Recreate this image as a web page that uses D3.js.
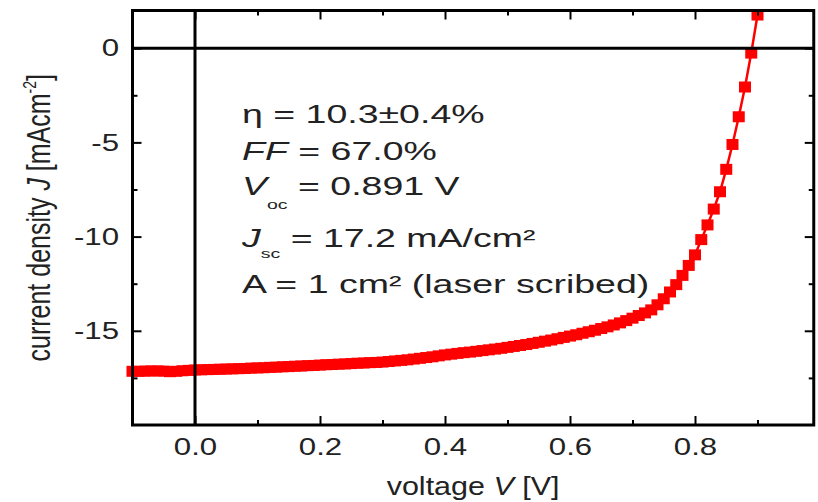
<!DOCTYPE html>
<html>
<head>
<meta charset="utf-8">
<script src="https://cdn.jsdelivr.net/npm/d3@7"></script>
<style>
    body { margin: 0; background: #fff; }
    text { font-family: "Liberation Sans", Arial, sans-serif; fill: #222; }
</style>
</head>
<body>
<div id="chart"></div>
<script>
// --------- DATA ---------

// J-V curve (voltage in V, current density in mA/cm2)
const voltage = [
    -0.10, -0.09, -0.08, -0.07, -0.06, -0.05, -0.04, -0.03, -0.02, -0.01,
    0.00, 0.01, 0.02, 0.03, 0.04, 0.05, 0.06, 0.07, 0.08, 0.09,
    0.10, 0.11, 0.12, 0.13, 0.14, 0.15, 0.16, 0.17, 0.18, 0.19,
    0.20, 0.21, 0.22, 0.23, 0.24, 0.25, 0.26, 0.27, 0.28, 0.29,
    0.30, 0.31, 0.32, 0.33, 0.34, 0.35, 0.36, 0.37, 0.38, 0.39,
    0.40, 0.41, 0.42, 0.43, 0.44, 0.45, 0.46, 0.47, 0.48, 0.49,
    0.50, 0.51, 0.52, 0.53, 0.54, 0.55, 0.56, 0.57, 0.58, 0.59,
    0.60, 0.61, 0.62, 0.63, 0.64, 0.65, 0.66, 0.67, 0.68, 0.69,
    0.70, 0.71, 0.72, 0.73, 0.74, 0.75, 0.76, 0.77, 0.78, 0.79,
    0.80, 0.81, 0.82, 0.83, 0.84, 0.85, 0.86, 0.87, 0.88, 0.89,
    0.90
];
const currentDensity = [
    -17.15, -17.15, -17.14, -17.13, -17.13, -17.14, -17.17, -17.15, -17.12, -17.10,
    -17.08, -17.07, -17.06, -17.05, -17.04, -17.03, -17.02, -17.01, -17.00, -16.98,
    -16.97, -16.96, -16.94, -16.93, -16.91, -16.90, -16.88, -16.87, -16.85, -16.84,
    -16.82, -16.80, -16.79, -16.77, -16.76, -16.74, -16.72, -16.71, -16.69, -16.68,
    -16.66, -16.63, -16.60, -16.57, -16.54, -16.50, -16.46, -16.42, -16.38, -16.33,
    -16.28, -16.24, -16.20, -16.16, -16.13, -16.09, -16.05, -16.01, -15.97, -15.93,
    -15.88, -15.83, -15.78, -15.73, -15.67, -15.61, -15.55, -15.49, -15.42, -15.35,
    -15.28, -15.21, -15.13, -15.05, -14.97, -14.88, -14.79, -14.69, -14.58, -14.46,
    -14.33, -14.19, -14.05, -13.89, -13.62, -13.30, -12.94, -12.55, -12.06, -11.53,
    -10.97, -10.16, -9.38, -8.54, -7.62, -6.43, -5.11, -3.64, -2.06, -0.26,
    1.76
];

const xMajorTicks = [0.0, 0.2, 0.4, 0.6, 0.8];
const xMinorTicks = [0.1, 0.3, 0.5, 0.7, 0.9];
const yMajorTicks = [0, -5, -10, -15];
const yMinorTicks = [-2.5, -7.5, -12.5, -17.5];

// text block: [text, style] pieces per line
const statLines = [
    [["η = 10.3±0.4%"]],
    [["FF", "i"], [" = 67.0%"]],
    [["V", "i"], ["oc", "sub"], [" = 0.891 V"]],
    [["J", "i"], ["sc", "sub"], [" = 17.2 mA/cm²"]],
    [["A = 1 cm² (laser scribed)"]]
];

// --------- GRAPHING ---------

const data = voltage.map((v, i) => ({v: v, j: currentDensity[i]}));

let svg = d3.select("#chart")
    .append("svg")
    .attr("width", 818)
    .attr("height", 502);

let x = d3.scaleLinear().domain([-0.1, 0.99]).range([132.5, 813.75]);
let y = d3.scaleLinear().domain([-20, 2]).range([425, 10.5]);

// stretch text horizontally (picture is wider than it is tall)
function stretch(sel, k) {
    sel.each(function () {
        let t = d3.select(this);
        let xx = +t.attr("x") || 0;
        t.attr("x", xx / k).attr("transform", "scale(" + k + ",1)");
    });
}

function styleAxis(g, labels) {
    g.select(".domain").remove();
    g.selectAll(".tick line").attr("stroke", "#000").attr("stroke-width", 2);
    g.selectAll(".tick text")
        .attr("font-size", 24)
        .attr("font-family", "Liberation Sans, Arial, sans-serif")
        .attr("fill", "#222");
    if (labels) stretch(g.selectAll(".tick text"), 1.3);
}

// Curve: line and square markers
let line = d3.line().x(d => x(d.v)).y(d => y(d.j));

svg.append("path")
    .attr("fill", "none")
    .attr("stroke", "#ff0000")
    .attr("stroke-width", 2.5)
    .attr("d", line(data));

svg.append("g").selectAll("rect")
    .data(data)
    .join("rect")
    .attr("x", d => x(d.v) - 6)
    .attr("y", d => y(d.j) - 5.5)
    .attr("width", 12)
    .attr("height", 11)
    .attr("fill", "#ff0000");

// Zero lines
svg.append("line")
    .attr("x1", x(0)).attr("x2", x(0))
    .attr("y1", y(2)).attr("y2", y(-20))
    .attr("stroke", "#000").attr("stroke-width", 3);
svg.append("line")
    .attr("x1", x(-0.1)).attr("x2", x(0.99))
    .attr("y1", y(0)).attr("y2", y(0))
    .attr("stroke", "#000").attr("stroke-width", 3);

// Axes: major ticks with labels, minor ticks, mirrored on top/right
svg.append("g")
    .attr("transform", "translate(0," + y(-20) + ")")
    .call(d3.axisBottom(x).tickValues(xMajorTicks).tickSize(-9).tickPadding(13).tickFormat(d => d.toFixed(1)))
    .call(g => styleAxis(g, true));
svg.append("g")
    .attr("transform", "translate(0," + y(-20) + ")")
    .call(d3.axisBottom(x).tickValues(xMinorTicks).tickSize(-5).tickFormat(""))
    .call(g => styleAxis(g, false));
svg.append("g")
    .attr("transform", "translate(0," + y(2) + ")")
    .call(d3.axisTop(x).tickValues(xMajorTicks).tickSize(-9).tickFormat(""))
    .call(g => styleAxis(g, false));
svg.append("g")
    .attr("transform", "translate(0," + y(2) + ")")
    .call(d3.axisTop(x).tickValues(xMinorTicks).tickSize(-5).tickFormat(""))
    .call(g => styleAxis(g, false));

svg.append("g")
    .attr("transform", "translate(" + x(-0.1) + ",0)")
    .call(d3.axisLeft(y).tickValues(yMajorTicks).tickSize(-9).tickPadding(13.5).tickFormat(d => String(d)))
    .call(g => styleAxis(g, true));
svg.append("g")
    .attr("transform", "translate(" + x(-0.1) + ",0)")
    .call(d3.axisLeft(y).tickValues(yMinorTicks).tickSize(-5).tickFormat(""))
    .call(g => styleAxis(g, false));
svg.append("g")
    .attr("transform", "translate(" + x(0.99) + ",0)")
    .call(d3.axisRight(y).tickValues(yMajorTicks).tickSize(-9).tickFormat(""))
    .call(g => styleAxis(g, false));
svg.append("g")
    .attr("transform", "translate(" + x(0.99) + ",0)")
    .call(d3.axisRight(y).tickValues(yMinorTicks).tickSize(-5).tickFormat(""))
    .call(g => styleAxis(g, false));

// Frame
svg.append("rect")
    .attr("x", x(-0.1)).attr("y", y(2))
    .attr("width", x(0.99) - x(-0.1))
    .attr("height", y(-20) - y(2))
    .attr("fill", "none")
    .attr("stroke", "#000")
    .attr("stroke-width", 3);

// Axis titles
let xTitle = svg.append("text")
    .attr("x", (x(-0.1) + x(0.99)) / 2 / 1.22)
    .attr("y", 495)
    .attr("transform", "scale(1.22,1)")
    .attr("text-anchor", "middle")
    .attr("font-size", 25);
xTitle.append("tspan").text("voltage ");
xTitle.append("tspan").attr("font-style", "italic").text("V");
xTitle.append("tspan").text(" [V]");

let yTitle = svg.append("text")
    .attr("transform", "translate(50," + (y(-20) + y(2)) / 2 + ") scale(1.3,1) rotate(-90)")
    .attr("text-anchor", "middle")
    .attr("font-size", 25);
yTitle.append("tspan").text("current density ");
yTitle.append("tspan").attr("font-style", "italic").text("J");
yTitle.append("tspan").text(" [mAcm");
yTitle.append("tspan").attr("font-size", 14).attr("dy", -11).text("-2");
yTitle.append("tspan").attr("dy", 11).text("]");

// Stats block
const statBaselines = [123, 160, 195, 247, 293];
let stats = svg.append("g").attr("transform", "translate(242,0) scale(1.5,1)");
statLines.forEach((parts, i) => {
    let t = stats.append("text")
        .attr("x", 0)
        .attr("y", statBaselines[i])
        .attr("font-size", 25);
    let shift = 0;
    parts.forEach(p => {
        let s = t.append("tspan").text(p[0]);
        if (p[1] === "i") s.attr("font-style", "italic");
        if (p[1] === "sub") {
            shift = i === 2 ? 14 : 11;
            s.attr("font-size", 13).attr("dy", shift);
        } else if (shift) {
            s.attr("dy", -shift);
            shift = 0;
        }
    });
});
</script>
</body>
</html>
